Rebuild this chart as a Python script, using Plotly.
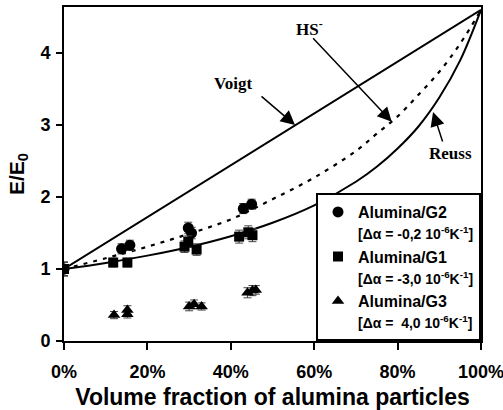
import plotly.graph_objects as go

# ---- data ----
g2_x = [0.0, 0.138, 0.158, 0.298, 0.306, 0.43, 0.45]
g2_y = [1.0, 1.28, 1.33, 1.57, 1.50, 1.84, 1.90]
g2_err = [0.09, 0.07, 0.07, 0.08, 0.08, 0.07, 0.07]

g1_x = [0.0, 0.118, 0.152, 0.289, 0.298, 0.318, 0.42, 0.442, 0.452]
g1_y = [1.0, 1.09, 1.09, 1.31, 1.38, 1.27, 1.45, 1.51, 1.47]
g1_err = [0.1, 0.06, 0.06, 0.08, 0.08, 0.08, 0.09, 0.09, 0.09]

g3_x = [0.12, 0.152, 0.152, 0.30, 0.312, 0.33, 0.44, 0.452, 0.46]
g3_y = [0.36, 0.43, 0.37, 0.48, 0.51, 0.48, 0.67, 0.70, 0.71]
g3_err = [0.05, 0.06, 0.05, 0.06, 0.06, 0.05, 0.07, 0.07, 0.06]

voigt_x = [0.0, 1.0]
voigt_y = [1.0, 4.6]

reuss_x = [0.0, 0.1, 0.2, 0.3, 0.4, 0.5, 0.6, 0.7, 0.75, 0.8, 0.85, 0.9, 0.95, 1.0]
reuss_y = [1.0, 1.085, 1.186, 1.307, 1.456, 1.643, 1.885, 2.212, 2.42, 2.674, 2.98, 3.382, 3.898, 4.6]

hs_x = [0.0, 0.1, 0.2, 0.3, 0.4, 0.5, 0.6, 0.7, 0.75, 0.8, 0.85, 0.9, 0.95, 1.0]
hs_y = [1.0, 1.15, 1.31, 1.49, 1.69, 1.97, 2.27, 2.64, 2.88, 3.12, 3.42, 3.74, 4.13, 4.6]

series_names = [
    "Alumina/G2<br><span style='font-size:14px'>[\u0394\u03b1 = -0,2 10<sup>-6</sup>K<sup>-1</sup>]</span>",
    "Alumina/G1<br><span style='font-size:14px'>[\u0394\u03b1 = -3,0 10<sup>-6</sup>K<sup>-1</sup>]</span>",
    "Alumina/G3<br><span style='font-size:14px'>[\u0394\u03b1 = \u00a04,0 10<sup>-6</sup>K<sup>-1</sup>]</span>",
]

AX = "Arial, Liberation Sans, sans-serif"
SERIF = "Times New Roman, Liberation Serif, serif"

fig = go.Figure()

# model curves
fig.add_trace(go.Scatter(x=voigt_x, y=voigt_y, mode="lines",
                         line=dict(color="black", width=2), showlegend=False, hoverinfo="skip"))
fig.add_trace(go.Scatter(x=reuss_x, y=reuss_y, mode="lines", line_shape="spline",
                         line=dict(color="black", width=2), showlegend=False, hoverinfo="skip"))
fig.add_trace(go.Scatter(x=hs_x, y=hs_y, mode="lines", line_shape="spline",
                         line=dict(color="black", width=2.2, dash="4px,6px"),
                         showlegend=False, hoverinfo="skip"))

def err(vals):
    return dict(type="data", array=vals, visible=True, color="#444", thickness=1, width=4)

fig.add_trace(go.Scatter(x=g2_x, y=g2_y, mode="markers", name=series_names[0],
                         marker=dict(symbol="circle", size=11, color="black"),
                         error_y=err(g2_err)))
fig.add_trace(go.Scatter(x=g1_x, y=g1_y, mode="markers", name=series_names[1],
                         marker=dict(symbol="square", size=10, color="black"),
                         error_y=err(g1_err)))
fig.add_trace(go.Scatter(x=g3_x, y=g3_y, mode="markers", name=series_names[2],
                         marker=dict(symbol="triangle-up", size=11, color="black"),
                         error_y=err(g3_err)))

# labels and arrows
lab_font = dict(family=SERIF, size=17, color="black", weight="bold")
fig.add_annotation(x=0.405, y=3.58, text="Voigt", showarrow=False, font=lab_font)
fig.add_annotation(x=0.588, y=4.35, text="HS<sup>-</sup>", showarrow=False, font=lab_font)
fig.add_annotation(x=0.926, y=2.61, text="Reuss", showarrow=False, font=lab_font)

arrows = [
    ((0.470, 3.417), (0.554, 3.0)),
    ((0.594, 4.226), (0.786, 3.046)),
    ((0.909, 2.75), (0.885, 3.18)),
]
for (tx, ty), (hx, hy) in arrows:
    fig.add_annotation(x=hx, y=hy, ax=tx, ay=ty, axref="x", ayref="y",
                       xref="x", yref="y", text="", showarrow=True,
                       arrowhead=2, arrowsize=1.9, arrowwidth=1.5, arrowcolor="black")

fig.update_layout(
    width=503, height=410,
    margin=dict(l=64, r=22, t=7, b=69, autoexpand=False),
    paper_bgcolor="white", plot_bgcolor="white",
    font=dict(family=AX, color="black"),
    legend=dict(x=1.0, xanchor="right", y=0.0, yanchor="bottom",
                bordercolor="black", borderwidth=2, bgcolor="white",
                font=dict(family=AX, size=16, color="black", weight="bold"),
                valign="top", itemwidth=30, tracegroupgap=0),
)

fig.update_xaxes(range=[0, 1], tickvals=[0, 0.2, 0.4, 0.6, 0.8, 1.0], tickformat=".0%",
                 automargin=False, ticklabelstandoff=6, ticklabeloverflow="allow",
                 showline=True, linecolor="black", linewidth=2, mirror=True,
                 ticks="outside", ticklen=7, tickwidth=2, tickcolor="black",
                 showgrid=False, zeroline=False,
                 tickfont=dict(family=AX, size=18, weight="bold"),
                 title=dict(text="Volume fraction of alumina particles",
                            font=dict(family=AX, size=23, weight="bold"), standoff=10))
fig.update_yaxes(range=[0, 4.64], tickvals=[0, 1, 2, 3, 4],
                 automargin=False, ticklabelstandoff=2,
                 showline=True, linecolor="black", linewidth=2, mirror=True,
                 ticks="outside", ticklen=6, tickwidth=2, tickcolor="black",
                 showgrid=False, zeroline=False,
                 tickfont=dict(family=AX, size=18, weight="bold"),
                 title=dict(text="E/E<sub>0</sub>",
                            font=dict(family=AX, size=21, weight="bold"), standoff=10))

fig.write_html("out.html")
